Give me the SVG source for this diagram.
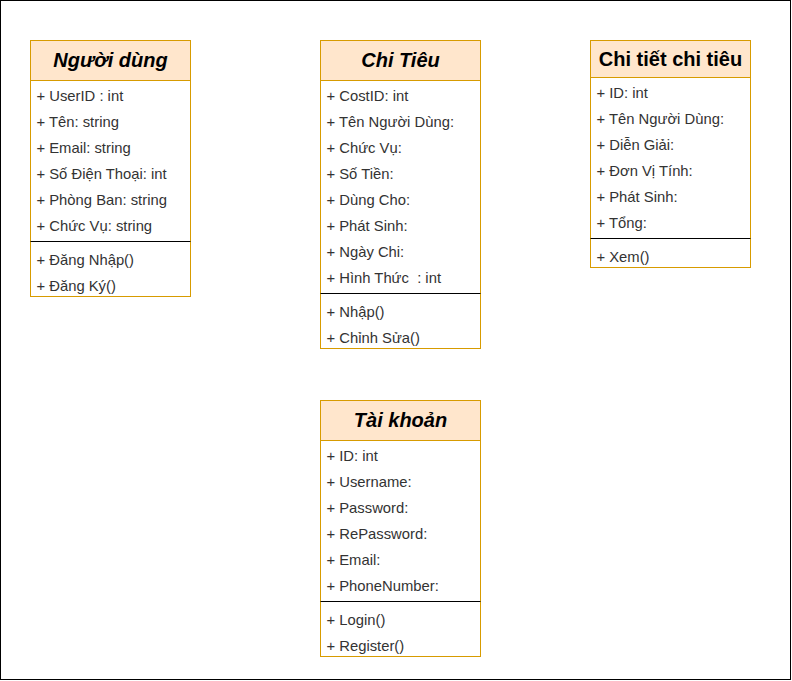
<svg xmlns="http://www.w3.org/2000/svg" width="792" height="681" viewBox="0 0 792 681">
<style>
.hdr{fill:#ffe6cc;stroke:#d79b00;stroke-width:1}
.body{fill:#ffffff;stroke:#d79b00;stroke-width:1}
.sep{stroke:#000000;stroke-width:1}
.t{font-family:"Liberation Sans",Arial,sans-serif;font-size:20px;font-weight:bold;fill:#000000;text-anchor:middle}
.ti{font-style:italic}
.f{font-family:"Liberation Sans",Arial,sans-serif;font-size:14.8px;fill:#333333}
</style>
<rect x="0.5" y="0.5" width="790" height="679" fill="#ffffff" stroke="#000000" stroke-width="1"/>
<g id="nguoi-dung">
<rect class="body" x="30.5" y="40.5" width="160" height="256"/>
<rect class="hdr" x="30.5" y="40.5" width="160" height="40"/>
<text class="t ti" x="110.5" y="66.5">Người dùng</text>
<text class="f" x="36.5" y="101">+ UserID : int</text>
<text class="f" x="36.5" y="127">+ Tên: string</text>
<text class="f" x="36.5" y="153">+ Email: string</text>
<text class="f" x="36.5" y="179">+ Số Điện Thoại: int</text>
<text class="f" x="36.5" y="205">+ Phòng Ban: string</text>
<text class="f" x="36.5" y="231">+ Chức Vụ: string</text>
<line class="sep" x1="30.5" y1="241.5" x2="190.5" y2="241.5"/>
<text class="f" x="36.5" y="265">+ Đăng Nhập()</text>
<text class="f" x="36.5" y="291">+ Đăng Ký()</text>
</g>
<g id="chi-tieu">
<rect class="body" x="320.5" y="40.5" width="160" height="308"/>
<rect class="hdr" x="320.5" y="40.5" width="160" height="40"/>
<text class="t ti" x="400.5" y="66.5">Chi Tiêu</text>
<text class="f" x="326.5" y="101">+ CostID: int</text>
<text class="f" x="326.5" y="127">+ Tên Người Dùng:</text>
<text class="f" x="326.5" y="153">+ Chức Vụ:</text>
<text class="f" x="326.5" y="179">+ Số Tiền:</text>
<text class="f" x="326.5" y="205">+ Dùng Cho:</text>
<text class="f" x="326.5" y="231">+ Phát Sinh:</text>
<text class="f" x="326.5" y="257">+ Ngày Chi:</text>
<text class="f" x="326.5" y="283" xml:space="preserve">+ Hình Thức  : int</text>
<line class="sep" x1="320.5" y1="293.5" x2="480.5" y2="293.5"/>
<text class="f" x="326.5" y="317">+ Nhập()</text>
<text class="f" x="326.5" y="343">+ Chỉnh Sửa()</text>
</g>
<g id="chi-tiet-chi-tieu">
<rect class="body" x="590.5" y="40.5" width="160" height="227"/>
<rect class="hdr" x="590.5" y="40.5" width="160" height="37"/>
<text class="t" x="670.5" y="65.5">Chi tiết chi tiêu</text>
<text class="f" x="596.5" y="98">+ ID: int</text>
<text class="f" x="596.5" y="124">+ Tên Người Dùng:</text>
<text class="f" x="596.5" y="150">+ Diễn Giải:</text>
<text class="f" x="596.5" y="176">+ Đơn Vị Tính:</text>
<text class="f" x="596.5" y="202">+ Phát Sinh:</text>
<text class="f" x="596.5" y="228">+ Tổng:</text>
<line class="sep" x1="590.5" y1="238.5" x2="750.5" y2="238.5"/>
<text class="f" x="596.5" y="262">+ Xem()</text>
</g>
<g id="tai-khoan">
<rect class="body" x="320.5" y="400.5" width="160" height="256"/>
<rect class="hdr" x="320.5" y="400.5" width="160" height="40"/>
<text class="t ti" x="400.5" y="426.5">Tài khoản</text>
<text class="f" x="326.5" y="461">+ ID: int</text>
<text class="f" x="326.5" y="487">+ Username:</text>
<text class="f" x="326.5" y="513">+ Password:</text>
<text class="f" x="326.5" y="539">+ RePassword:</text>
<text class="f" x="326.5" y="565">+ Email:</text>
<text class="f" x="326.5" y="591">+ PhoneNumber:</text>
<line class="sep" x1="320.5" y1="601.5" x2="480.5" y2="601.5"/>
<text class="f" x="326.5" y="625">+ Login()</text>
<text class="f" x="326.5" y="651">+ Register()</text>
</g>
<g id="connectors"></g>
</svg>
